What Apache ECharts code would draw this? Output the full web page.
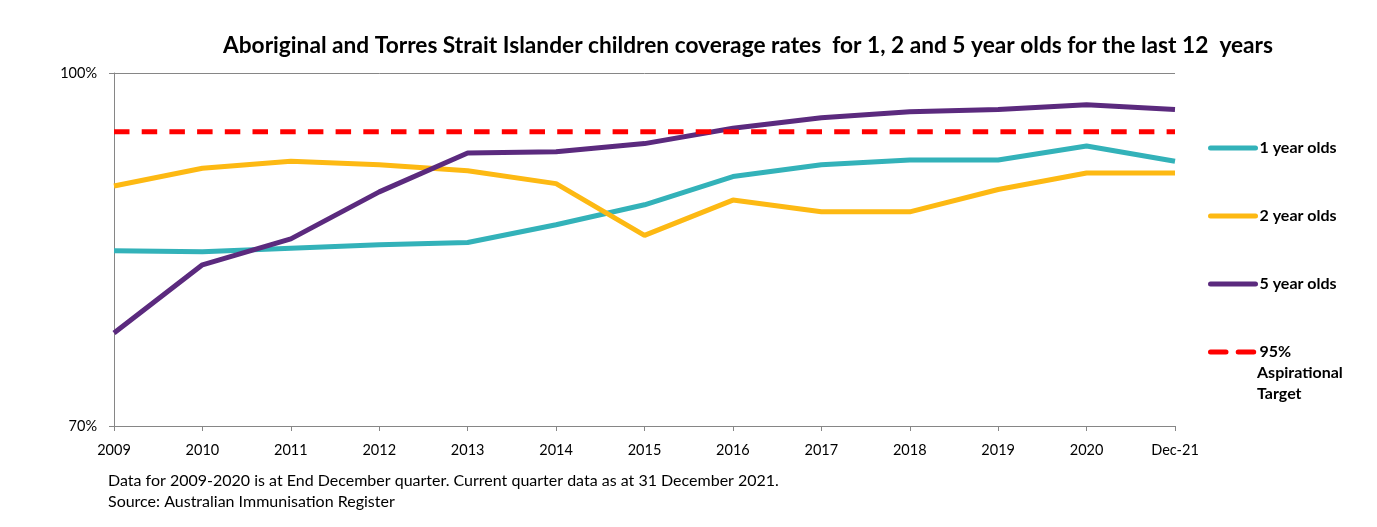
<!DOCTYPE html>
<html>
<head>
<meta charset="utf-8">
<script src="https://cdn.jsdelivr.net/npm/echarts@6/dist/echarts.min.js"></script>
<style>
html, body { margin: 0; padding: 0; background: #fff; }
#chart { width: 1377px; height: 527px; }
</style>
</head>
<body>
<div id="chart"></div>
<script>
// categories (x axis)
var years = ['2009', '2010', '2011', '2012', '2013', '2014', '2015', '2016', '2017', '2018', '2019', '2020', 'Dec-21'];

// coverage %
var oneYear  = [84.9, 84.8, 85.1, 85.4, 85.6, 87.1, 88.8, 91.2, 92.2, 92.6, 92.6, 93.8, 92.5];
var twoYear  = [90.4, 91.9, 92.5, 92.2, 91.7, 90.6, 86.2, 89.2, 88.2, 88.2, 90.1, 91.5, 91.5];
var fiveYear = [77.9, 83.7, 85.9, 89.9, 93.2, 93.3, 94.0, 95.3, 96.2, 96.7, 96.9, 97.3, 96.9];
var target   = [95, 95, 95, 95, 95, 95, 95, 95, 95, 95, 95, 95, 95];

var names  = ['1 year olds', '2 year olds', '5 year olds', '95% Aspirational Target'];
var colors = ['#33b2b9', '#fdb913', '#5b2a7e', '#ff0000'];

var font = 'Lato, "Open Sans", sans-serif';

var chart = echarts.init(document.getElementById('chart'));

function lineSeries(i, data, dash) {
    return {
        name: names[i],
        type: 'line',
        data: data,
        symbol: 'none',
        showSymbol: false,
        smooth: false,
        silent: true,
        lineStyle: { color: colors[i], width: 5, type: dash || 'solid', cap: 'butt' },
        itemStyle: { color: colors[i] }
    };
}

var option = {
    animation: false,
    textStyle: { fontFamily: font },
    title: {
        text: 'Aboriginal and Torres Strait Islander children coverage rates  for 1, 2 and 5 year olds for the last 12  years',
        left: 743,
        top: 29,
        textAlign: 'center',
        textStyle: { fontFamily: font, fontSize: 22.7, fontWeight: 'bold', color: '#000' }
    },
    grid: { left: 114, right: 202, top: 73, bottom: 101, containLabel: false },
    xAxis: {
        type: 'category',
        data: years,
        boundaryGap: false,
        axisLine: { lineStyle: { color: '#868686', width: 1 } },
        axisTick: { show: true, alignWithLabel: true, length: 5, lineStyle: { color: '#868686' } },
        axisLabel: { color: '#000', fontSize: 14.5, fontFamily: font, margin: 17, interval: 0 },
        splitLine: { show: false }
    },
    yAxis: {
        type: 'value',
        min: 70,
        max: 100,
        interval: 30,
        axisLine: { show: true, lineStyle: { color: '#868686', width: 1 } },
        axisTick: { show: true, length: 5, lineStyle: { color: '#868686' } },
        axisLabel: { color: '#000', fontSize: 14.5, fontFamily: font, margin: 17, formatter: '{value}%' },
        splitLine: { show: true, lineStyle: { color: '#868686', width: 1 } }
    },
    legend: {
        orient: 'vertical',
        left: 1203,
        top: 133,
        itemWidth: 45,
        itemHeight: 14,
        itemGap: 48,
        data: names,
        formatter: function (n) { return n == names[3] ? '95%' : n; },
        itemStyle: { opacity: 0 },
        lineStyle: { width: 5, cap: 'round' },
        textStyle: { fontFamily: font, fontSize: 16, fontWeight: 'bold', color: '#000', lineHeight: 20, padding: [0, 0, 0, -1] },
        selectedMode: false
    },
    graphic: [
        {
            type: 'text',
            left: 1257,
            top: 362,
            style: { text: 'Aspirational\nTarget', font: 'bold 16px ' + font, fill: '#000', lineHeight: 21 }
        },
        {
            type: 'text',
            left: 108,
            top: 470,
            style: { text: 'Data for 2009-2020 is at End December quarter. Current quarter data as at 31 December 2021.\nSource: Australian Immunisation Register', font: '16px ' + font, fill: '#000', lineHeight: 21 }
        }
    ],
    series: [
        lineSeries(0, oneYear),
        lineSeries(1, twoYear),
        lineSeries(2, fiveYear),
        lineSeries(3, target, [15.5, 12.2])
    ]
};

chart.setOption(option);
</script>
</body>
</html>
